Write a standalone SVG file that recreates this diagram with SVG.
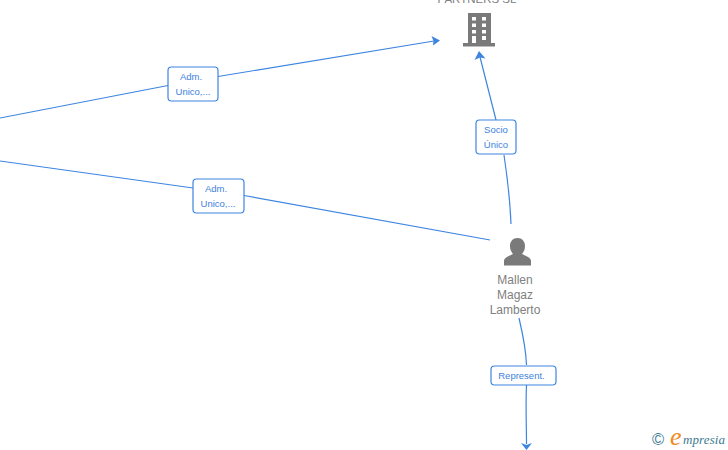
<svg xmlns="http://www.w3.org/2000/svg" width="728" height="450" viewBox="0 0 728 450">
<defs>
<style>
.c{fill:none;stroke:#3d85e0;stroke-width:1.200}
.b{fill:#fff;stroke:#3d85e0;stroke-width:1.200}
.l{font:9.500px "Liberation Sans",Arial,sans-serif;fill:#3d7fe0;text-anchor:middle}
.n{font:12px "Liberation Sans",Arial,sans-serif;fill:#808080;text-anchor:middle}
.t{font-size:11.500px}
.i{fill:#7a7a7a}
.a{fill:#3d85e0}
</style>
</defs>
<rect width="728" height="450" fill="#fff"/>
<g id="connectors">
<path class="c" d="M0 118 L168 85.500M218 76.500 L434 41"/>
<path class="a" d="M440 40.500 L431.500 36 L433.500 41 L433 45.500Z"/>
<path class="c" d="M0 161 L193 188M244 195.500 L490 240"/>
<path class="c" d="M511 224 C510 200 507 175 504 155M496 120 L480 57"/>
<path class="a" d="M479 51 L474.500 60 L480 57.500 L485.500 58.500Z"/>
<path class="c" d="M519 318 C523 335 526 350 526.500 365M526.500 385 C525.500 405 526.500 425 526.500 444"/>
<path class="a" d="M526.500 450 L532 443 L526.500 445 L521 443Z"/>
</g>
<g id="node-partners">
<text class="n t" x="477" y="3">PARTNERS  SL</text>
<path class="i" d="M468 13H491V43H495V46.500H463V43H468Z"/>
<path fill="#fff" d="M472 17h4v3.500h-4zM482 17h4v3.500h-4zM472 23.500h4v3.500h-4zM482 23.500h4v3.500h-4zM472 30h4v3.500h-4zM482 30h4v3.500h-4zM472 36h4v7h-4zM482 36h4v4h-4z"/>
</g>
<g id="node-mallen">
<path class="i" d="M517.500 238C522 238 525 241.500 525 246C525 250 523.500 252 522 254C526 256 531 257.500 531 261V265.500H504V261C504 257.500 509 256 513 254C511.500 252 510 250 510 246C510 241.500 513 238 517.500 238Z"/>
<text class="n" x="515" y="284">Mallen</text>
<text class="n" x="515" y="299">Magaz</text>
<text class="n" x="515" y="314">Lamberto</text>
</g>
<g id="label-adm1">
<rect class="b" x="168" y="67" width="50" height="34" rx="3.500"/>
<text class="l" x="191" y="80">Adm.</text>
<text class="l" x="193" y="95">Unico,...</text>
</g>
<g id="label-adm2">
<rect class="b" x="193" y="179" width="51" height="34" rx="3.500"/>
<text class="l" x="216" y="192">Adm.</text>
<text class="l" x="218" y="207">Unico,...</text>
</g>
<g id="label-socio">
<rect class="b" x="476" y="120" width="40" height="34" rx="3.500"/>
<text class="l" x="496" y="133">Socio</text>
<text class="l" x="496" y="148">Único</text>
</g>
<g id="label-represent">
<rect class="b" x="491" y="366" width="65" height="19" rx="3.500"/>
<text class="l" x="521.500" y="379">Represent.</text>
</g>
<g id="logo">
<text x="658" y="445" font-family="Liberation Sans,sans-serif" font-size="16.500" fill="#3f7f96" text-anchor="middle">©</text>
<text x="670" y="445" font-family="Liberation Serif,serif" font-style="italic" font-size="26" fill="#f08a1d">e</text>
<text x="683" y="444" font-family="Liberation Serif,serif" font-style="italic" font-size="13" fill="#3c7a90" textLength="42">mpresia</text>
</g>
</svg>
